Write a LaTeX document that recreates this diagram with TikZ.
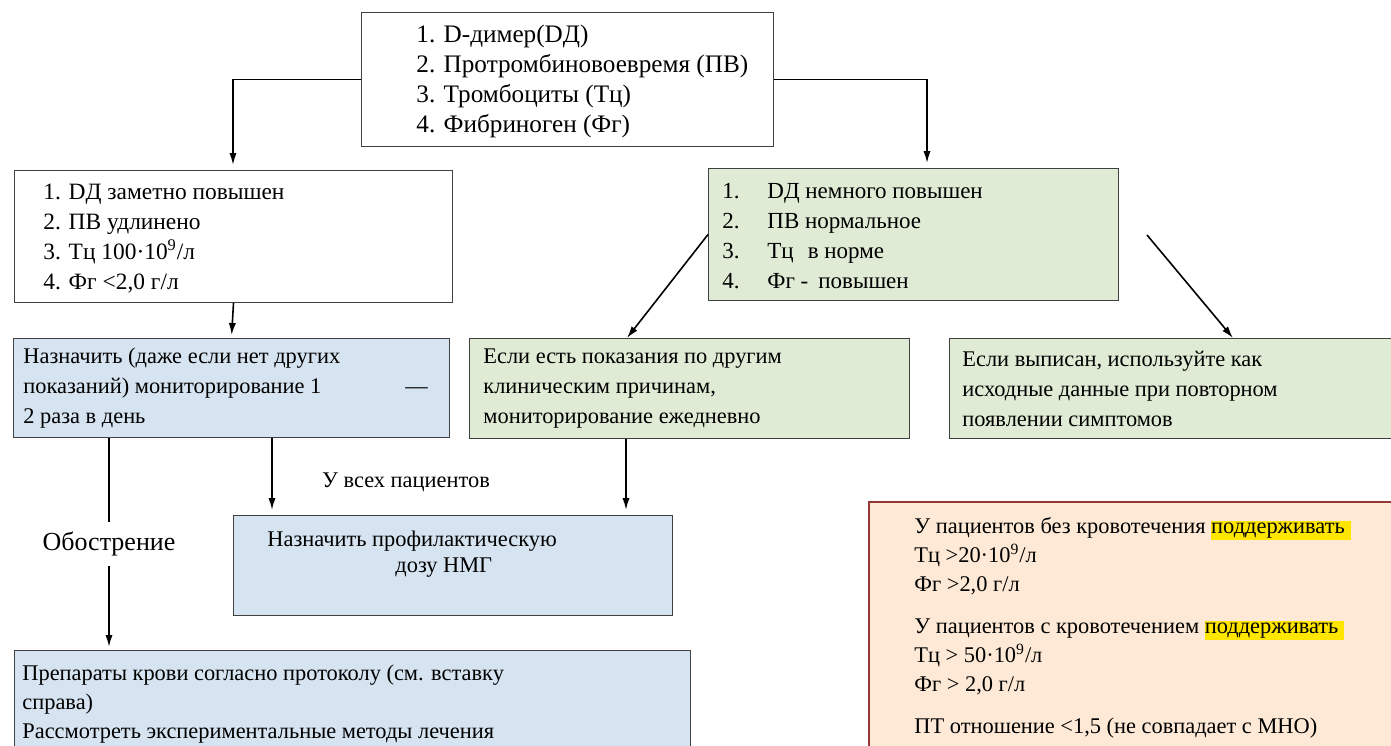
\documentclass[tikz,border=0pt]{standalone}
\usepackage{fontspec}
\setmainfont{Liberation Serif}
\usetikzlibrary{arrows.meta,positioning}
\definecolor{boxgreen}{RGB}{224,235,214}
\definecolor{boxblue}{RGB}{214,227,240}
\definecolor{boxpeach}{RGB}{253,233,213}
\definecolor{peachline}{RGB}{149,55,53}
\definecolor{hlyellow}{RGB}{255,230,0}
\newcommand{\hilite}[1]{{\setlength{\fboxsep}{0pt}\colorbox{hlyellow}{\rule[-3pt]{0pt}{9.5pt}#1\hspace{3pt}}}}

\begin{document}
\begin{tikzpicture}[x=0.5pt,y=-0.5pt,
        box/.style={draw=black!75, line width=0.5pt, anchor=north west, inner sep=0pt},
        whitebox/.style={box, fill=white},
        greenbox/.style={box, fill=boxgreen},
        bluebox/.style={box, fill=boxblue},
        peachbox/.style={box, draw=peachline, line width=0.9pt, fill=boxpeach},
        txt/.style={anchor=west, align=left, inner sep=0pt, font=\fontsize{11.2}{15}\selectfont},
        arrow/.style={line width=0.8pt, -{Latex[length=6pt,width=3.6pt]}}]
    \useasboundingbox (0,0) rectangle (1391,745);
    % Boxes
    \node[whitebox, minimum width=206pt, minimum height=67pt] (t) at (361,12) {};
    \node[whitebox, minimum width=219pt, minimum height=66pt] (l1) at (14,170) {};
    \node[greenbox, minimum width=205pt, minimum height=66pt] (r1) at (708,168) {};
    \node[bluebox, minimum width=218pt, minimum height=49.5pt] (l2) at (13,338) {};
    \node[greenbox, minimum width=220pt, minimum height=50pt] (m2) at (469,338) {};
    \node[greenbox, minimum width=223pt, minimum height=50pt] (r2) at (949,338) {};
    \node[bluebox, minimum width=219.5pt, minimum height=50pt] (m3) at (233,515) {};
    \node[bluebox, minimum width=338pt, minimum height=52pt] (l3) at (14,650) {};
    \node[peachbox, minimum width=265pt, minimum height=126pt] (r3) at (868,501) {};
    % Texts
    \node[txt, font=\fontsize{12.6}{15}\selectfont] (ttext) at ([shift={(55,2)}]t.west)
        {1. D-димер(DД)\\2. Протромбиновоевремя (ПВ)\\3. Тромбоциты (Тц)\\4. Фибриноген (Фг)};
    \node[txt, font=\fontsize{11.7}{15}\selectfont] (l1text) at ([shift={(29,2)}]l1.west)
        {1. DД заметно повышен\\2. ПВ удлинено\\3. Тц 100·10\textsuperscript{9}/л\\4. Фг <2,0 г/л};
    \node[txt, font=\fontsize{11.5}{15}\selectfont] (r1text) at ([shift={(14,2)}]r1.west)
        {\makebox[22.5pt][l]{1.}DД немного повышен\\\makebox[22.5pt][l]{2.}ПВ нормальное\\
         \makebox[22.5pt][l]{3.}Тц\hspace{7pt}в норме\\\makebox[22.5pt][l]{4.}Фг -\hspace{5pt}повышен};
    \node[txt] (l2text) at ([shift={(10,0)}]l2.west)
        {Назначить (даже если нет других\\\makebox[191pt][l]{показаний) мониторирование 1}—\\2 раза в день};
    \node[txt] (m2text) at ([shift={(14,0)}]m2.west)
        {Если есть показания по другим\\клиническим причинам,\\мониторирование ежедневно};
    \node[txt] (r2text) at ([shift={(13,0)}]r2.west)
        {Если выписан, используйте как\\исходные данные при повторном\\появлении симптомов};
    \node[txt, font=\fontsize{11.2}{13}\selectfont] (m3text) at ([shift={(34,-11)}]m3.west)
        {Назначить профилактическую\\\hspace*{64pt}дозу НМГ};
    \node[txt, font=\fontsize{11.2}{14.5}\selectfont] (l3text) at ([shift={(8,2)}]l3.west)
        {Препараты крови согласно протоколу (см. вставку\\справа)\\Рассмотреть экспериментальные методы лечения};
    \node[txt, font=\fontsize{11.2}{14.5}\selectfont] (r3text) at ([shift={(46,0)}]r3.west)
        {У пациентов без кровотечения \hilite{поддерживать}\\Тц >20·10\textsuperscript{9}/л\\Фг >2,0 г/л\\[6.5pt]
         У пациентов с кровотечением \hilite{поддерживать}\\Тц > 50·10\textsuperscript{9}/л\\Фг > 2,0 г/л\\[6.5pt]
         ПТ отношение <1,5 (не совпадает с МНО)};
    \node[txt, anchor=center] (allpat) at (406,482) {У всех пациентов};
    % Arrows
    \coordinate (r1out) at (1147,235);
    \draw[arrow, shorten >=2.5pt] (t.west) -| (233,0 |- l1.north);
    \draw[arrow, shorten >=2.5pt] (t.east) -| (927,0 |- r1.north);
    \draw[arrow, shorten >=1.5pt] (l1.south) -- (l2.north);
    \draw[arrow] (r1.west) -- (627,0 |- m2.north);
    \draw[arrow] (r1out) -- (1233,0 |- r2.north);
    \draw[arrow, shorten >=1.5pt] (109,0 |- l2.south) --
        node[fill=white, font=\fontsize{13}{15}\selectfont, inner ysep=5pt, inner xsep=2pt] (flare) {Обострение}
        (109,0 |- l3.north);
    \draw[arrow, shorten >=2.5pt] (272,0 |- l2.south) -- (272,0 |- m3.north);
    \draw[arrow, shorten >=2.5pt] (626,0 |- m2.south) -- (626,0 |- m3.north);
\end{tikzpicture}
\end{document}
